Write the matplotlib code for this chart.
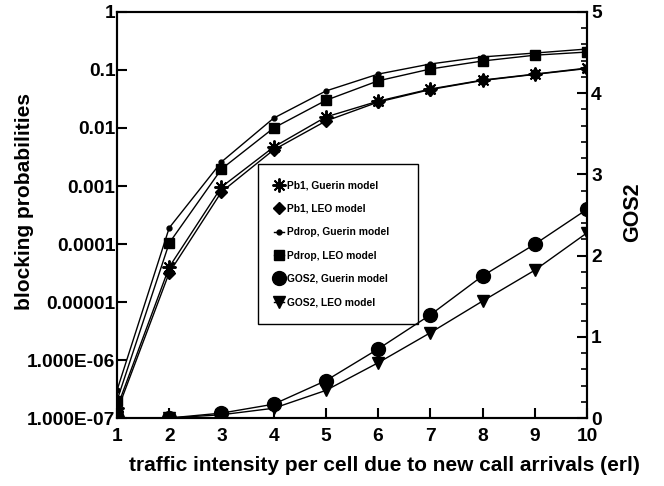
import matplotlib
matplotlib.use("Agg")
import matplotlib.pyplot as plt
from matplotlib.ticker import FixedLocator, MultipleLocator, NullLocator

plt.rcParams['font.family'] = ['Liberation Sans', 'DejaVu Sans']
plt.rcParams['font.weight'] = 'bold'

x = [1, 2, 3, 4, 5, 6, 7, 8, 9, 10]

pb1_guerin = [1.5e-7, 4.0e-5, 9.6e-4, 4.7e-3, 0.0155, 0.029, 0.047, 0.067, 0.085, 0.108]
pb1_leo = [1.3e-7, 3.2e-5, 7.9e-4, 4.2e-3, 0.0132, 0.028, 0.046, 0.066, 0.084, 0.106]
pdrop_guerin = [3.0e-7, 1.9e-4, 2.6e-3, 0.0148, 0.0435, 0.085, 0.127, 0.168, 0.196, 0.23]
pdrop_leo = [2.0e-7, 1.04e-4, 1.96e-3, 0.010, 0.030, 0.065, 0.104, 0.143, 0.18, 0.204]
gos2_guerin = [0.0, 0.0, 0.06, 0.17, 0.46, 0.85, 1.27, 1.75, 2.14, 2.57]
gos2_leo = [0.0, 0.0, 0.04, 0.12, 0.34, 0.68, 1.05, 1.44, 1.82, 2.28]

left_ticks = [1e-7, 1e-6, 1e-5, 1e-4, 1e-3, 1e-2, 1e-1, 1]
left_labels = ["1.000E-07", "1.000E-06", "0.00001", "0.0001", "0.001", "0.01", "0.1", "1"]

fig = plt.figure(figsize=(6.64, 4.86), dpi=100)
ax = fig.add_axes([117/664, (486-418)/486, (587-117)/664, (418-12)/486])
ax2 = ax.twinx()

lw = 1.0
h1, = ax.plot(x, pb1_guerin, color='black', lw=lw, marker=(8, 2, 0), ms=10, mew=1.4,
              label='Pb1, Guerin model')
h2, = ax.plot(x, pb1_leo, color='black', lw=lw, marker='D', ms=6,
              label='Pb1, LEO model')
h3, = ax.plot(x, pdrop_guerin, color='black', lw=lw, marker='o', ms=3.5,
              label='Pdrop, Guerin model')
h4, = ax.plot(x, pdrop_leo, color='black', lw=lw, marker='s', ms=6.5,
              label='Pdrop, LEO model')
h5, = ax2.plot(x, gos2_guerin, color='black', lw=lw, marker='o', ms=10,
               label='GOS2, Guerin model')
h6, = ax2.plot(x, gos2_leo, color='black', lw=lw, marker='v', ms=9,
               label='GOS2, LEO model')

ax.set_yscale('log')
ax.set_ylim(1e-7, 1)
ax.set_xlim(1, 10)
ax.yaxis.set_major_locator(FixedLocator(left_ticks))
ax.set_yticklabels(left_labels)
ax.yaxis.set_minor_locator(NullLocator())
ax.set_xticks(x)
ax.xaxis.set_minor_locator(NullLocator())

ax2.set_ylim(0, 5)
ax2.yaxis.set_major_locator(MultipleLocator(1))
ax2.yaxis.set_minor_locator(MultipleLocator(0.2))

for a in (ax, ax2):
    for s in a.spines.values():
        s.set_linewidth(1.5)
ax.tick_params(axis='both', which='major', direction='in', length=7, width=1.5,
               labelsize=13.8, pad=1)
ax.tick_params(axis='x', pad=7)
ax2.tick_params(axis='y', which='major', direction='in', length=7, width=1.5,
                labelsize=13.8, pad=3)
ax2.tick_params(axis='y', which='minor', direction='in', length=4, width=1.2)
for lab in ax.get_xticklabels() + ax.get_yticklabels() + ax2.get_yticklabels():
    lab.set_fontweight('bold')

ax.set_xlabel('traffic intensity per cell due to new call arrivals (erl)',
              fontsize=15, fontweight='bold')
ax.xaxis.set_label_coords((384-117)/470, (418-456)/406)
ax.set_ylabel('blocking probabilities', fontsize=15, fontweight='bold')
ax.yaxis.set_label_coords((34-117)/470, (418-201.5)/406)
ax2.set_ylabel('GOS2', fontsize=15.5, fontweight='bold')
ax2.yaxis.set_label_coords((622-117)/470, (418-212)/406)

handles = [h1, h2, h3, h4, h5, h6]
leg = ax.legend(handles=handles, loc='upper left',
                bbox_to_anchor=((258-117)/470, (418-164)/406 - 0.01, (418-258)/470, 0.01),
                mode='expand',
                prop={'family': 'Liberation Sans', 'weight': 'bold', 'size': 7.4},
                frameon=True, fancybox=False, edgecolor='black', framealpha=1,
                handlelength=0.9, handletextpad=0.3, labelspacing=1.3,
                borderpad=1.6, borderaxespad=0)
leg.get_frame().set_linewidth(1.0)
leg.set_zorder(5)

fig.savefig('out.png', dpi=100)
